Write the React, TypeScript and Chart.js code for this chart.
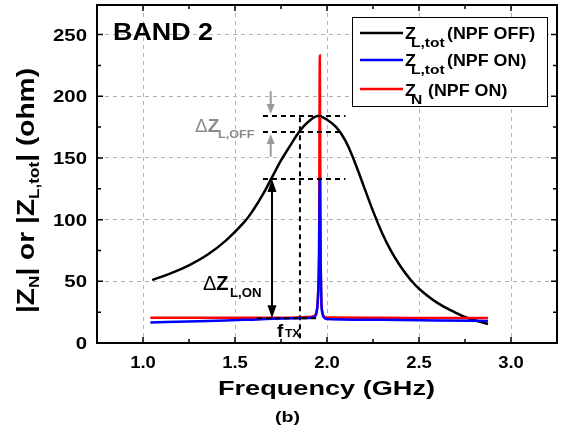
import React, { useEffect, useRef } from "react";
import { Chart, registerables } from "chart.js";

Chart.register(...registerables);

// Frequency sweep (GHz) and impedance magnitudes (ohm)
const offFreq = [1.05, 1.15, 1.25, 1.35, 1.45, 1.55, 1.6, 1.65, 1.7, 1.75, 1.8, 1.85, 1.9, 1.95, 2.0, 2.05, 2.1, 2.15, 2.2, 2.25, 2.3, 2.35, 2.4, 2.45, 2.5, 2.6, 2.7, 2.76, 2.875];
const offZ = [51, 56.5, 63, 71.5, 83, 98, 108, 120, 134, 148, 160, 171.5, 179.5, 184, 181, 175, 164, 147, 127, 107, 89, 74, 62, 52, 44, 32.5, 24.5, 20.5, 15.4];

const onFreq = [1.04, 1.3, 1.55, 1.77, 1.9, 1.93, 1.945, 1.952, 1.957, 1.961, 1.965, 1.969, 1.975, 1.985, 2.0, 2.3, 2.6, 2.875];
const onZ = [16.6, 17.6, 18.8, 19.8, 20.2, 21, 26, 40, 70, 133, 70, 35, 24, 20.5, 19.5, 18.8, 18.3, 17.8];

const nFreq = [1.04, 1.3, 1.55, 1.77, 1.9, 1.93, 1.945, 1.952, 1.957, 1.961, 1.965, 1.969, 1.975, 1.985, 2.0, 2.3, 2.6, 2.875];
const nZ = [20.5, 20.5, 20.4, 20.4, 21, 22, 27, 42, 80, 233, 80, 38, 25, 21.5, 20.6, 20.4, 20.3, 20.3];

const xTicks = [1.0, 1.5, 2.0, 2.5, 3.0];
const xMinor = [1.25, 1.75, 2.25, 2.75];
const yTicks = [0, 50, 100, 150, 200, 250];
const yMinor = [25, 75, 125, 175, 225];

// Marker levels used by the annotation overlay
const fTx = 1.853;
const zPeakOff = 184;
const zOffAtTx = 171;
const zOnPeak = 133;
const zOnBase = 20;

const FONT = "'Liberation Sans', Arial, sans-serif";

type Run = { t: string; size: number; dy?: number; weight?: string };

function runsWidth(ctx: CanvasRenderingContext2D, runs: Run[]) {
  let w = 0;
  for (const r of runs) {
    ctx.font = `${r.weight ?? "bold"} ${r.size}px ${FONT}`;
    w += ctx.measureText(r.t).width;
  }
  return w;
}

function drawRuns(
  ctx: CanvasRenderingContext2D,
  runs: Run[],
  x: number,
  y: number,
  sx: number,
  color = "#000"
) {
  ctx.save();
  ctx.translate(x, y);
  ctx.scale(sx, 1);
  ctx.fillStyle = color;
  ctx.textBaseline = "alphabetic";
  let cx = 0;
  for (const r of runs) {
    ctx.font = `${r.weight ?? "bold"} ${r.size}px ${FONT}`;
    ctx.fillText(r.t, cx, r.dy ?? 0);
    cx += ctx.measureText(r.t).width;
  }
  ctx.restore();
}

function text(
  ctx: CanvasRenderingContext2D,
  s: string,
  x: number,
  y: number,
  size: number,
  opts: { sx?: number; fit?: number; align?: "left" | "center" | "right"; color?: string; weight?: string } = {}
) {
  ctx.save();
  ctx.font = `${opts.weight ?? "bold"} ${size}px ${FONT}`;
  const nat = ctx.measureText(s).width;
  const sx = opts.fit ? opts.fit / nat : opts.sx ?? 1;
  const w = nat * sx;
  const x0 = opts.align === "center" ? x - w / 2 : opts.align === "right" ? x - w : x;
  ctx.translate(x0, y);
  ctx.scale(sx, 1);
  ctx.fillStyle = opts.color ?? "#000";
  ctx.textBaseline = "alphabetic";
  ctx.fillText(s, 0, 0);
  ctx.restore();
}

function arrowHead(ctx: CanvasRenderingContext2D, x: number, tipY: number, dir: 1 | -1, len: number, half: number) {
  ctx.beginPath();
  ctx.moveTo(x, tipY);
  ctx.lineTo(x - half, tipY - dir * len);
  ctx.lineTo(x + half, tipY - dir * len);
  ctx.closePath();
  ctx.fill();
}

const overlay = {
  id: "overlay",
  afterDatasetsDraw(chart: any) {
    const ctx: CanvasRenderingContext2D = chart.ctx;
    const xs = chart.scales.x;
    const ys = chart.scales.y;
    const X = (v: number) => xs.getPixelForValue(v);
    const Y = (v: number) => ys.getPixelForValue(v);
    const { left, right, top, bottom } = chart.chartArea;

    ctx.save();
    // dashed guide lines
    ctx.strokeStyle = "#000";
    ctx.lineWidth = 2;
    ctx.setLineDash([5, 4]);
    const hline = (v: number, f0: number, f1: number) => {
      ctx.beginPath();
      ctx.moveTo(X(f0), Y(v));
      ctx.lineTo(X(f1), Y(v));
      ctx.stroke();
    };
    hline(zPeakOff, 1.652, 2.1);
    hline(zOffAtTx, 1.652, 2.09);
    hline(zOnPeak, 1.652, 2.1);
    hline(zOnBase, 1.62, 1.946);
    ctx.beginPath();
    ctx.moveTo(X(fTx), Y(183));
    ctx.lineTo(X(fTx), bottom);
    ctx.stroke();
    ctx.setLineDash([]);

    // double arrow for the NPF-on swing
    const ax = X(1.701);
    ctx.fillStyle = "#000";
    ctx.beginPath();
    ctx.moveTo(ax, Y(zOnPeak) + 10);
    ctx.lineTo(ax, Y(zOnBase) - 10);
    ctx.stroke();
    arrowHead(ctx, ax, Y(zOnPeak), -1, 13, 4.5);
    arrowHead(ctx, ax, Y(zOnBase), 1, 13, 4.5);

    // grey arrows for the NPF-off swing
    const gx = X(1.694);
    ctx.strokeStyle = "#9a9a9a";
    ctx.fillStyle = "#9a9a9a";
    ctx.beginPath();
    ctx.moveTo(gx, Y(204));
    ctx.lineTo(gx, Y(zPeakOff) - 8);
    ctx.moveTo(gx, Y(151));
    ctx.lineTo(gx, Y(zOffAtTx) + 8);
    ctx.stroke();
    arrowHead(ctx, gx, Y(zPeakOff) - 2, 1, 10, 4);
    arrowHead(ctx, gx, Y(zOffAtTx) + 2, -1, 10, 4);

    // labels
    drawRuns(ctx, [{ t: "\u0394", size: 19, weight: "normal" }, { t: "Z", size: 19 }], 195, 132, 1, "#8c8c8c");
    text(ctx, "L,OFF", 218, 138, 11, { sx: 1.15, color: "#8c8c8c" });
    drawRuns(ctx, [{ t: "\u0394", size: 20, weight: "normal" }, { t: "Z", size: 20 }], 203, 290, 1, "#000");
    text(ctx, "L,ON", 230, 297, 12, { sx: 1.1 });
    text(ctx, "f", 277, 337, 19);
    text(ctx, "TX", 285, 337, 10, { sx: 1.2 });

    // frame
    ctx.strokeStyle = "#000";
    ctx.lineWidth = 2;
    ctx.strokeRect(left, top, right - left, bottom - top);

    // inward ticks on all four sides
    ctx.lineWidth = 1.5;
    ctx.beginPath();
    const xt = (v: number, len: number) => {
      const px = X(v);
      ctx.moveTo(px, bottom);
      ctx.lineTo(px, bottom - len);
      ctx.moveTo(px, top);
      ctx.lineTo(px, top + len);
    };
    const yt = (v: number, len: number) => {
      const py = Y(v);
      ctx.moveTo(left, py);
      ctx.lineTo(left + len, py);
      ctx.moveTo(right, py);
      ctx.lineTo(right - len, py);
    };
    xTicks.forEach((v) => xt(v, 6));
    xMinor.forEach((v) => xt(v, 4));
    yTicks.filter((v) => v > 0).forEach((v) => yt(v, 6));
    yMinor.forEach((v) => yt(v, 4));
    ctx.stroke();

    // tick labels
    xTicks.forEach((v) => text(ctx, v.toFixed(1), X(v), 368, 16, { sx: 1.15, align: "center" }));
    yTicks.forEach((v) => text(ctx, String(v), 87, Y(v) + 6, 17, { sx: 1.2, align: "right" }));

    // axis titles
    text(ctx, "Frequency (GHz)", 326.5, 395, 21, { fit: 217, align: "center" });
    text(ctx, "(b)", 287.5, 422, 14, { fit: 25, align: "center" });

    const yRuns: Run[] = [
      { t: "|Z", size: 23 },
      { t: "N", size: 14, dy: 5 },
      { t: "| or |Z", size: 23 },
      { t: "L,tot", size: 14, dy: 5 },
      { t: "| (ohm)", size: 23 },
    ];
    const yLen = runsWidth(ctx, yRuns);
    ctx.save();
    ctx.translate(34, 313);
    ctx.rotate(-Math.PI / 2);
    drawRuns(ctx, yRuns, 0, 0, 245 / yLen);
    ctx.restore();

    text(ctx, "BAND 2", 113, 40, 23, { fit: 100 });

    // legend
    ctx.fillStyle = "#fff";
    ctx.fillRect(352, 17, 196, 90);
    ctx.strokeStyle = "#000";
    ctx.lineWidth = 1;
    ctx.strokeRect(352.5, 17.5, 195, 89);
    const rows = [
      { color: "#000000", ly: 33, by: 39, sub: "L,tot", rest: "(NPF OFF)", rx: 447 },
      { color: "#0000ff", ly: 60, by: 66, sub: "L,tot", rest: "(NPF ON)", rx: 447 },
      { color: "#ff0000", ly: 89, by: 96, sub: "N", rest: "(NPF ON)", rx: 428 },
    ];
    rows.forEach((r) => {
      ctx.strokeStyle = r.color;
      ctx.lineWidth = 2.5;
      ctx.beginPath();
      ctx.moveTo(360, r.ly);
      ctx.lineTo(403, r.ly);
      ctx.stroke();
      text(ctx, "Z", 405, r.by, 17, { sx: 1.05 });
      text(ctx, r.sub, 411, r.by + 8, 12, { sx: 1.3 });
      text(ctx, r.rest, r.rx, r.by, 17, { sx: 1.05 });
    });
    ctx.restore();
  },
};

export default function App() {
  const ref = useRef<HTMLCanvasElement>(null);

  useEffect(() => {
    if (!ref.current) return;
    const toPts = (fs: number[], zs: number[]) => fs.map((f, i) => ({ x: f, y: zs[i] }));
    const chart = new Chart(ref.current, {
      type: "line",
      data: {
        datasets: [
          {
            label: "Z_L,tot (NPF ON)",
            data: toPts(onFreq, onZ),
            borderColor: "#0000ff",
            borderWidth: 2.5,
            pointRadius: 0,
            cubicInterpolationMode: "monotone",
            order: 0,
          },
          {
            label: "Z_N (NPF ON)",
            data: toPts(nFreq, nZ),
            borderColor: "#ff0000",
            borderWidth: 2.5,
            pointRadius: 0,
            cubicInterpolationMode: "monotone",
            order: 1,
          },
          {
            label: "Z_L,tot (NPF OFF)",
            data: toPts(offFreq, offZ),
            borderColor: "#000000",
            borderWidth: 2.5,
            pointRadius: 0,
            tension: 0.4,
            order: 2,
          },
        ],
      },
      options: {
        animation: false,
        responsive: false,
        maintainAspectRatio: false,
        layout: { padding: { top: 5, right: 5, left: 0, bottom: 0 } },
        plugins: { legend: { display: false }, tooltip: { enabled: false } },
        scales: {
          x: {
            type: "linear",
            min: 0.75,
            max: 3.25,
            afterBuildTicks: (s: any) => {
              s.ticks = xTicks.map((v) => ({ value: v }));
            },
            afterFit: (s: any) => {
              s.height = 89;
            },
            ticks: { display: false },
            grid: { color: "#b4b4b4", lineWidth: 1, drawTicks: false },
            border: { display: false, dash: [4, 4] },
          },
          y: {
            type: "linear",
            min: 0,
            max: 274,
            afterBuildTicks: (s: any) => {
              s.ticks = yTicks.map((v) => ({ value: v }));
            },
            afterFit: (s: any) => {
              s.width = 97;
            },
            ticks: { display: false },
            grid: { color: "#b4b4b4", lineWidth: 1, drawTicks: false },
            border: { display: false, dash: [4, 4] },
          },
        },
      },
      plugins: [overlay],
    });
    return () => chart.destroy();
  }, []);

  return (
    <div style={{ position: "fixed", left: 0, top: 0, width: 562, height: 432, background: "#fff" }}>
      <canvas ref={ref} width={562} height={432} style={{ display: "block" }} />
    </div>
  );
}
